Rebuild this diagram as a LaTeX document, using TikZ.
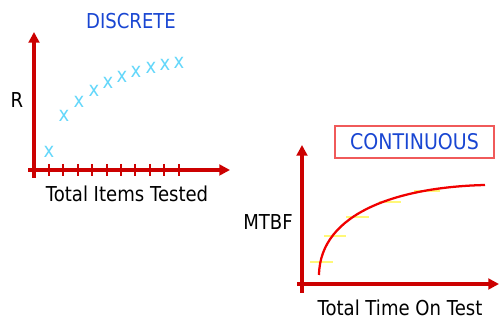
\documentclass[tikz,border=0pt]{standalone}
\usepackage{fontspec}
\setmainfont[FakeStretch=0.88]{DejaVu Sans}
\usetikzlibrary{arrows.meta}
\definecolor{axisred}{RGB}{204,0,0}
\definecolor{curvered}{RGB}{240,0,0}
\definecolor{titleblue}{RGB}{25,70,210}
\definecolor{markcyan}{RGB}{100,215,250}
\definecolor{levelyellow}{RGB}{255,248,120}
\definecolor{boxred}{RGB}{240,90,90}
\tikzset{
  axis/.style={draw=axisred, line width=2.6pt, -{Triangle[length=8pt,width=8pt]}},
  axisbase/.style={draw=axisred, line width=2.6pt},
  tick/.style={draw=axisred, line width=1.5pt},
  label/.style={inner sep=0pt, text=black, font=\fontsize{15.4}{18}\selectfont},
  title/.style={inner sep=0pt, text=titleblue, font=\fontsize{15.4}{18}\selectfont},
  xmark/.style={inner sep=0pt, text=markcyan, font=\fontsize{15.4}{18}\selectfont},
  level/.style={draw=levelyellow, line width=1.6pt},
}
\begin{document}
\begin{tikzpicture}[x=0.75pt, y=-0.75pt]
\useasboundingbox (0,0) rectangle (501,320);

% ---- discrete: reliability vs items tested ----
\node[title] (disc) at (131,21) {DISCRETE};
\node[label] (rlab) at (17,100) {R};
\node[label] (items) at (127,194) {Total Items Tested};

\draw[axisbase] (34,178) -- (34,40);
\draw[axis] (34,60) -- (34,32);
\draw[axisbase] (28,170) -- (210,170);
\draw[axis] (200,170) -- (230,170);
\foreach \i in {0,...,9} {
  \draw[tick] ({49+14.4*\i},164) -- ({49+14.4*\i},176);
}
\foreach \px/\py [count=\k] in {49/152, 64/116, 79/102, 94/91, 108/83, 122/77, 136/72, 151/68, 165/65, 179/63} {
  \node[xmark] (x\k) at (\px,\py) {x};
}

% ---- continuous: MTBF vs total time on test ----
\node[draw=boxred, line width=0.8pt, minimum width=159*0.75pt, minimum height=32*0.75pt, inner sep=0pt,
      text=titleblue, font=\fontsize{16.2}{18}\selectfont] (cont) at (414.5,142) {CONTINUOUS};
\node[label] (mtbf) at (268,222) {MTBF};
\node[label] (ttot) at (400,308) {Total Time On Test};

\draw[axisbase] (302,293) -- (302,160);
\draw[axis] (302,170) -- (302,145);
\draw[axisbase] (297,284) -- (480,284);
\draw[axis] (470,284) -- (499,284);

\foreach \xa/\xb/\yy in {310/333/262, 324/346/236, 346/369/217, 379/401/202, 414/440/191} {
  \draw[level] (\xa,\yy) -- (\xb,\yy);
}
\draw[curvered, line width=1.7pt] (319,275) .. controls (320,212) and (400,187) .. (485,185);
\end{tikzpicture}
\end{document}
